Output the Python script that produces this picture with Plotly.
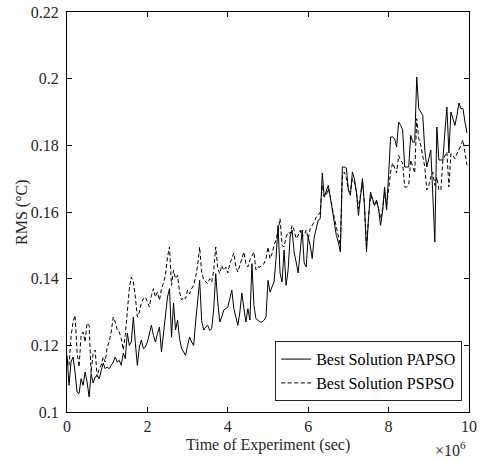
import numpy as np
import plotly.graph_objects as go

# Time of experiment (seconds), sampled every 0.05e6 s
time_s = np.arange(200) * 5e4

# Best Solution PAPSO (RMS, deg C)
rms_papso = [
    0.117, 0.108, 0.115, 0.1165, 0.112, 0.106, 0.1055, 0.110, 0.108, 0.112,
    0.109, 0.1045, 0.1115, 0.1087, 0.1105, 0.111, 0.110, 0.112, 0.1147, 0.113,
    0.1135, 0.113, 0.114, 0.115, 0.1165, 0.115, 0.1155, 0.114, 0.1177, 0.116,
    0.1237, 0.120, 0.121, 0.1285, 0.1207, 0.114, 0.1195, 0.1216, 0.119, 0.1195,
    0.121, 0.124, 0.126, 0.123, 0.121, 0.1235, 0.1255, 0.118, 0.124, 0.130,
    0.1345, 0.137, 0.1225, 0.1327, 0.1246, 0.1276, 0.122, 0.119, 0.118, 0.117,
    0.120, 0.1225, 0.121, 0.120, 0.127, 0.134, 0.1395, 0.1275, 0.1246, 0.1255,
    0.126, 0.1245, 0.125, 0.131, 0.1415, 0.133, 0.127, 0.1285, 0.1306, 0.131,
    0.1315, 0.134, 0.1366, 0.131, 0.128, 0.126, 0.130, 0.1357, 0.131, 0.127,
    0.131, 0.1276, 0.1445, 0.132, 0.128, 0.1275, 0.127, 0.127, 0.1275, 0.1285,
    0.1395, 0.136, 0.1375, 0.139, 0.146, 0.156, 0.1417, 0.139, 0.1486, 0.138,
    0.1426, 0.1525, 0.1546, 0.148, 0.145, 0.1417, 0.148, 0.1546, 0.1447, 0.1435,
    0.1525, 0.150, 0.146, 0.1525, 0.155, 0.1576, 0.158, 0.1717, 0.1645, 0.166,
    0.168, 0.1645, 0.161, 0.157, 0.153, 0.151, 0.148, 0.1735, 0.1735, 0.1732,
    0.1665, 0.165, 0.172, 0.170, 0.166, 0.159, 0.1645, 0.170, 0.162, 0.148,
    0.158, 0.166, 0.164, 0.162, 0.1636, 0.161, 0.156, 0.160, 0.1675, 0.1606,
    0.171, 0.1825, 0.1825, 0.182, 0.1795, 0.187, 0.186, 0.1846, 0.1735, 0.1735,
    0.1735, 0.183, 0.181, 0.181, 0.2005, 0.191, 0.190, 0.189, 0.1786, 0.1735,
    0.176, 0.1786, 0.165, 0.151, 0.1855, 0.1756, 0.1756, 0.1756, 0.184, 0.1915,
    0.1777, 0.190, 0.188, 0.186, 0.189, 0.1927, 0.191, 0.191, 0.187, 0.1837,
]

# Best Solution PSPSO (RMS, deg C)
rms_pspso = [
    0.116, 0.114, 0.1225, 0.127, 0.129, 0.118, 0.1135, 0.123, 0.124, 0.121,
    0.1267, 0.126, 0.1117, 0.1177, 0.1186, 0.1105, 0.113, 0.114, 0.1165, 0.115,
    0.1195, 0.121, 0.124, 0.1285, 0.127, 0.1246, 0.124, 0.122, 0.1186, 0.123,
    0.130, 0.137, 0.1405, 0.139, 0.1345, 0.1285, 0.130, 0.1327, 0.134, 0.1345,
    0.133, 0.1315, 0.135, 0.137, 0.1345, 0.136, 0.1335, 0.137, 0.1387, 0.141,
    0.1465, 0.1495, 0.138, 0.1425, 0.140, 0.141, 0.136, 0.1336, 0.1345, 0.134,
    0.1366, 0.1355, 0.137, 0.138, 0.1405, 0.144, 0.1495, 0.142, 0.1396, 0.139,
    0.1385, 0.140, 0.139, 0.1425, 0.1495, 0.143, 0.1415, 0.144, 0.1425, 0.1435,
    0.1417, 0.1445, 0.146, 0.1477, 0.1435, 0.142, 0.144, 0.146, 0.148, 0.1445,
    0.1435, 0.1456, 0.147, 0.148, 0.1426, 0.1435, 0.1435, 0.144, 0.1445, 0.146,
    0.1495, 0.146, 0.1475, 0.150, 0.1516, 0.1545, 0.158, 0.150, 0.1495, 0.1525,
    0.154, 0.1535, 0.156, 0.1545, 0.152, 0.153, 0.1545, 0.1525, 0.153, 0.1546,
    0.152, 0.155, 0.156, 0.157, 0.1585, 0.159, 0.160, 0.168, 0.1645, 0.165,
    0.167, 0.1645, 0.161, 0.158, 0.155, 0.152, 0.150, 0.171, 0.172, 0.170,
    0.1665, 0.166, 0.170, 0.169, 0.166, 0.161, 0.165, 0.169, 0.162, 0.150,
    0.158, 0.165, 0.1635, 0.162, 0.163, 0.161, 0.158, 0.161, 0.166, 0.162,
    0.1666, 0.172, 0.1747, 0.173, 0.1717, 0.177, 0.1755, 0.1747, 0.1675, 0.1675,
    0.168, 0.1756, 0.1735, 0.1717, 0.188, 0.182, 0.180, 0.1765, 0.1735, 0.1666,
    0.168, 0.1705, 0.172, 0.168, 0.1705, 0.1666, 0.1666, 0.1756, 0.177, 0.178,
    0.1675, 0.1775, 0.177, 0.176, 0.1775, 0.1786, 0.180, 0.1816, 0.178, 0.174,
]

x_tick_vals = [0, 2e6, 4e6, 6e6, 8e6, 10e6]
x_tick_text = ["0", "2", "4", "6", "8", "10"]
y_tick_vals = [0.10, 0.12, 0.14, 0.16, 0.18, 0.20, 0.22]
y_tick_text = ["0.1", "0.12", "0.14", "0.16", "0.18", "0.2", "0.22"]

FONT = "Liberation Serif, Times New Roman, serif"
TXT = "#262626"

fig = go.Figure()
fig.add_trace(go.Scatter(
    x=time_s, y=rms_papso, mode="lines", name="Best Solution PAPSO",
    line=dict(color="black", width=1),
))
fig.add_trace(go.Scatter(
    x=time_s, y=rms_pspso, mode="lines", name="Best Solution PSPSO",
    line=dict(color="black", width=1, dash="4px,2.5px"),
))

axis_common = dict(
    showline=True, linecolor="black", linewidth=1, mirror="allticks",
    ticks="inside", ticklen=5, tickcolor="black", tickwidth=1,
    showgrid=False, zeroline=False, automargin=False,
    tickfont=dict(family=FONT, size=16, color=TXT),
)

fig.update_layout(
    width=483, height=461,
    margin=dict(l=67, r=14, t=12, b=49),
    paper_bgcolor="white", plot_bgcolor="white",
    font=dict(family=FONT, size=16, color=TXT),
    xaxis=dict(range=[0, 10e6], tickvals=x_tick_vals, ticktext=x_tick_text,
               ticklabelstandoff=0, **axis_common),
    yaxis=dict(range=[0.1, 0.22], tickvals=y_tick_vals, ticktext=y_tick_text,
               ticklabelstandoff=4, **axis_common),
    legend=dict(x=0.983, y=0.027, xanchor="right", yanchor="bottom",
                bgcolor="white", bordercolor=TXT, borderwidth=1,
                font=dict(family=FONT, size=16, color="black"),
                tracegroupgap=0, itemwidth=30),
    showlegend=True,
)

# axis titles placed as annotations for exact positioning
fig.add_annotation(
    text="Time of Experiment (sec)", xref="paper", yref="paper",
    x=0.5, y=-0.083, xanchor="center", yanchor="middle",
    showarrow=False, font=dict(family=FONT, size=16, color=TXT),
)
fig.add_annotation(
    text="RMS (°C)", xref="paper", yref="paper",
    x=-0.112, y=0.5, xanchor="center", yanchor="middle", textangle=-90,
    showarrow=False, font=dict(family=FONT, size=16, color=TXT),
)
fig.add_annotation(
    text="×10<sup>6</sup>", xref="paper", yref="paper",
    x=0.998, y=-0.092, xanchor="right", yanchor="middle",
    showarrow=False, font=dict(family=FONT, size=16, color=TXT),
)

fig.write_html(
    "out.html",
    config={"displayModeBar": False},
    post_script="document.body.style.margin='0';document.body.style.overflow='hidden';",
)
